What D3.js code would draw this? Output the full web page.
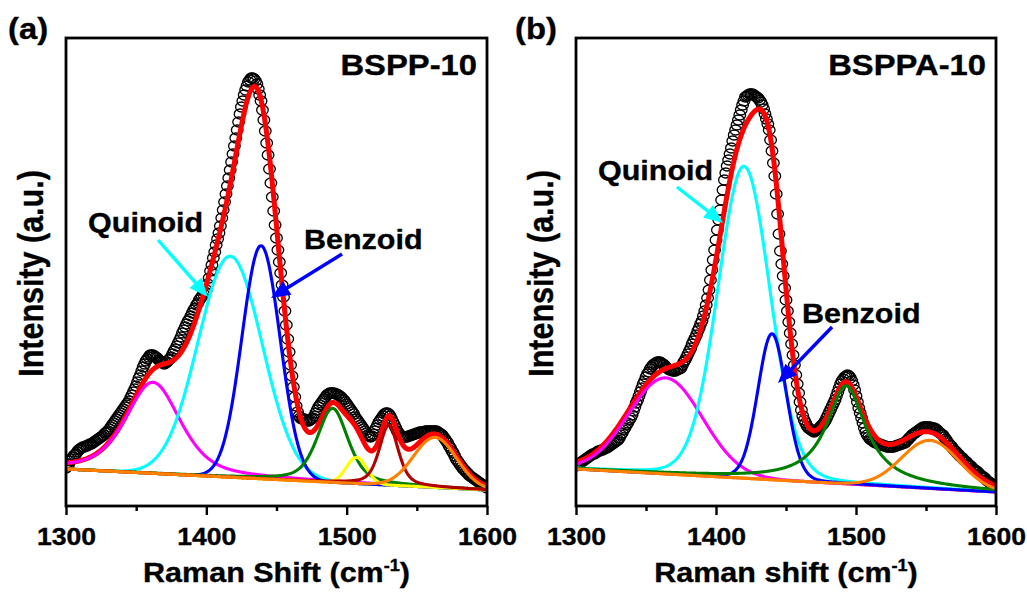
<!DOCTYPE html>
<html><head><meta charset="utf-8">
<script src="https://cdn.jsdelivr.net/npm/d3@7"></script>
<style>html,body{margin:0;padding:0;background:#fff}svg{display:block}</style>
</head><body>
<svg id="chart" width="1027" height="592"></svg>
<script>
// ---------------- DATA ----------------
const shiftMin = 1300, shiftMax = 1600;          // Raman shift axis (cm-1)
const xTicksMajor = [1300, 1400, 1500, 1600];
const xTicksMinor = [1350, 1450, 1550];
const intensityMax = 468;                        // arbitrary units

// measured spectra, one value per cm-1 from 1300 to 1600
const measuredA = [
38,40,42,45,47,49,51,52,54,56, 57,58,59,59,60,60,61,62,62,63,
64,65,66,67,68,69,70,71,73,74, 75,77,79,81,83,85,87,89,91,93,
95,97,99,101,103,105,108,111,114,117, 120,124,128,131,135,139,142,145,147,149,
151,151,151,150,149,148,146,145,144,143, 142,143,144,146,147,149,152,155,157,160,
163,166,169,173,176,179,182,185,187,190, 193,196,198,201,203,206,208,210,212,214,
216,222,228,235,241,248,254,261,267,273, 280,288,296,304,312,320,328,336,344,352,
360,368,376,384,392,399,405,411,416,420, 424,426,428,428,427,425,422,417,411,405,
396,386,375,363,351,337,323,309,295,281, 268,256,244,233,221,209,195,181,167,154,
141,130,119,109,100,94,90,88,87,87, 87,86,85,85,86,87,88,90,93,96,
99,101,103,105,107,109,111,112,113,113, 113,113,112,112,111,110,109,107,106,104,
102,100,98,96,94,92,89,87,85,83, 81,79,77,75,73,71,70,69,70,72,
75,78,81,84,86,88,90,92,93,93, 92,90,87,84,81,78,75,73,71,70,
69,69,69,69,70,70,71,71,72,72, 73,73,74,74,74,74,75,75,75,75,
75,75,75,75,75,74,73,72,71,69, 67,65,63,60,58,55,53,50,47,45,
43,41,39,37,36,34,33,31,30,29, 28,27,26,25,24,23,22,21,20,19,18
];
const measuredB = [
40,41,42,43,44,45,46,47,48,49, 50,51,52,52,53,54,55,55,56,56,
57,58,58,59,60,61,62,63,64,65, 66,68,71,73,76,78,81,83,86,88,
91,95,99,103,106,110,114,118,122,125, 129,132,134,137,139,141,142,143,144,144,
144,143,142,141,139,138,137,136,136,135, 135,135,136,137,137,138,141,144,146,149,
152,155,158,162,165,168,171,175,178,182, 185,190,195,201,208,216,226,236,246,256,
266,276,286,296,306,316,326,333,340,346, 352,358,365,371,376,381,386,391,396,401,
405,409,410,411,412,412,412,411,410,409, 408,406,404,401,397,392,387,382,376,366,
355,343,330,312,292,272,255,242,230,218, 206,195,184,173,162,151,141,131,122,113,
104,96,90,86,83,80,78,77,76,75, 74,75,76,77,78,80,81,83,85,88,
91,94,97,100,103,106,110,114,118,122, 125,127,129,130,131,130,128,125,121,116,
110,104,98,93,88,83,78,74,71,69, 67,66,65,64,63,63,62,62,61,61,
60,60,59,59,59,59,59,59,60,60, 61,61,62,62,63,63,65,66,68,69,
71,72,73,74,75,76,77,78,79,79, 79,79,79,79,78,78,78,77,76,74,
73,72,71,69,67,65,63,61,60,58, 56,55,53,52,50,49,48,46,45,44,
42,41,40,38,37,36,35,34,32,31, 30,29,28,26,25,24,23,22,21,20,19
];

// linear baselines: intensity at 1300 and at 1600
const baselineA = [37, 16];
const baselineB = [37, 14];

// fitted pseudo-Voigt components
const peakNamesA   = ["p1", "quinoid", "benzoid", "p4", "p5", "p6", "p7"];
const peakCentersA = [1362, 1417, 1439, 1490, 1507, 1530, 1563];
const peakHeightsA = [91, 221, 233, 74, 26, 60, 50];
const peakFwhmA    = [46, 54, 32, 26, 17, 16, 36];
const peakLorentzA = [0.5, 0, 0, 0.5, 0, 0.5, 0];

const peakNamesB   = ["p1", "quinoid", "benzoid", "p4", "p5"];
const peakCentersB = [1364, 1420, 1440, 1493, 1553];
const peakHeightsB = [96, 312, 146, 98, 48];
const peakFwhmB    = [62, 44, 24, 34, 48];
const peakLorentzB = [0, 0.1, 0.1, 1, 0];

// text
const panelLetters = ["(a)", "(b)"];
const sampleNames  = ["BSPP-10", "BSPPA-10"];
const xTitles      = ["Raman Shift", "Raman shift"];
const yTitle       = "Intensity (a.u.)";

// annotations (data coordinates: shift, intensity)
const annotA = [
  {text:"Quinoid", at:[1315.7, 274], from:[1365.6, 266], to:[1401.2, 209], color:"#00ffff"},
  {text:"Benzoid", at:[1469.6, 257], from:[1496.7, 252], to:[1446.1, 208], color:"#0000ff"}
];
const annotB = [
  {text:"Quinoid", at:[1315.7, 326], from:[1372.1, 319], to:[1405.0, 283], color:"#00ffff"},
  {text:"Benzoid", at:[1461.4, 183], from:[1482.9, 179], to:[1444.3, 123], color:"#0000ff"}
];

// ---------------- STYLE ----------------
const colorsA = ["#ff00ff", "#00ffff", "#0000ff", "#008000", "#ffff00", "#b00000", "#ff8000"];
const colorsB = ["#ff00ff", "#00ffff", "#0000ff", "#008000", "#ff8000"];
const FONT = "'Liberation Sans', Arial, Helvetica, sans-serif";
const SX = 1.13;                 // horizontal stretch of the original raster
const TOP = 38, BOTTOM = 506;

const panels = [
  {left:66, right:487, letterX:8, measured:measuredA, baseline:baselineA,
   centers:peakCentersA, heights:peakHeightsA, fwhm:peakFwhmA, eta:peakLorentzA,
   colors:colorsA, annots:annotA, idx:0},
  {left:576, right:996, letterX:515, measured:measuredB, baseline:baselineB,
   centers:peakCentersB, heights:peakHeightsB, fwhm:peakFwhmB, eta:peakLorentzB,
   colors:colorsB, annots:annotB, idx:1}
];

const svg = d3.select("#chart");
svg.append("rect").attr("width",1027).attr("height",592).attr("fill","#fff");

function pv(x, c, h, w, eta) {
  const t = (x - c) / w;
  return h * ((1 - eta) * Math.exp(-4 * Math.LN2 * t * t) + eta / (1 + 4 * t * t));
}

function stretchedText(g, txt, x, y, size, anchor, rotate) {
  return g.append("text")
    .attr("transform", `translate(${x},${y}) scale(${SX},1)` + (rotate ? " rotate(-90)" : ""))
    .attr("font-family", FONT).attr("font-weight", "bold")
    .attr("font-size", size).attr("text-anchor", anchor).attr("fill", "#000")
    .attr("stroke", "#000").attr("stroke-width", 0.35)
    .text(txt);
}

panels.forEach(p => {
  const x = d3.scaleLinear().domain([shiftMin, shiftMax]).range([p.left, p.right]);
  const y = d3.scaleLinear().domain([0, intensityMax]).range([BOTTOM, TOP]);
  const g = svg.append("g");
  const clipId = "clip" + p.idx;
  g.append("clipPath").attr("id", clipId).append("rect")
    .attr("x", p.left).attr("y", TOP).attr("width", p.right - p.left).attr("height", BOTTOM - TOP);
  const plot = g.append("g").attr("clip-path", `url(#${clipId})`);

  const base = s => p.baseline[0] + (p.baseline[1] - p.baseline[0]) * (s - shiftMin) / (shiftMax - shiftMin);
  const grid = d3.range(shiftMin, shiftMax + 0.01, 0.5);
  const line = d3.line().x(d => x(d[0])).y(d => y(d[1]));

  // measured points
  plot.append("g").selectAll("ellipse").data(p.measured).join("ellipse")
    .attr("cx", (d, i) => x(shiftMin + i)).attr("cy", d => y(d))
    .attr("rx", 5.8).attr("ry", 5)
    .attr("fill", "none").attr("stroke", "#000").attr("stroke-width", 1.3);

  // cumulative fit
  const fit = grid.map(s => [s, base(s) + p.centers.reduce((a, c, k) => a + pv(s, c, p.heights[k], p.fwhm[k], p.eta[k]), 0)]);
  plot.append("path").attr("d", line(fit)).attr("fill", "none")
    .attr("stroke", "#ff0000").attr("stroke-width", 5).attr("stroke-linejoin", "round");

  // baseline
  plot.append("path").attr("d", line(grid.map(s => [s, base(s)]))).attr("fill", "none")
    .attr("stroke", "#ff8000").attr("stroke-width", 3.2);

  // components
  p.centers.forEach((c, k) => {
    const comp = grid.map(s => [s, base(s) + pv(s, c, p.heights[k], p.fwhm[k], p.eta[k])]);
    plot.append("path").attr("d", line(comp)).attr("fill", "none")
      .attr("stroke", p.colors[k]).attr("stroke-width", 3.1);
  });

  // frame
  g.append("rect").attr("x", p.left).attr("y", TOP).attr("width", p.right - p.left).attr("height", BOTTOM - TOP)
    .attr("fill", "none").attr("stroke", "#000").attr("stroke-width", 2.8);

  // x axis ticks
  const axMaj = d3.axisBottom(x).tickValues(xTicksMajor).tickSize(9).tickFormat(d3.format("d"));
  const axMin = d3.axisBottom(x).tickValues(xTicksMinor).tickSize(5).tickFormat("");
  const ga = g.append("g").attr("transform", `translate(0,${BOTTOM})`).call(axMaj);
  const gm = g.append("g").attr("transform", `translate(0,${BOTTOM})`).call(axMin);
  [ga, gm].forEach(a => { a.select(".domain").remove(); a.selectAll("line").attr("stroke", "#000").attr("stroke-width", 2.4); });
  ga.selectAll("text").attr("y", 39).attr("dy", null)
    .attr("transform", `scale(${SX},1)`)
    .attr("font-family", FONT).attr("font-weight", "bold").attr("font-size", 23.5)
    .attr("fill", "#000").attr("stroke", "#000").attr("stroke-width", 0.35);

  // axis titles
  const xt = stretchedText(g, null, (p.left + p.right) / 2, 582, 27, "middle", false);
  xt.append("tspan").text(xTitles[p.idx] + " (cm");
  xt.append("tspan").attr("font-size", 16).attr("dy", -11).text("-1");
  xt.append("tspan").attr("dy", 11).text(")");
  stretchedText(g, yTitle, p.left - 23, 273.5, 30.5, "middle", true);

  // panel letter and sample name
  stretchedText(g, panelLetters[p.idx], p.letterX, 39, 29, "start", false);
  stretchedText(g, sampleNames[p.idx], p.right - 10, 75, 29, "end", false);

  // annotations
  p.annots.forEach(a => {
    stretchedText(g, a.text, x(a.at[0]), y(a.at[1]), 27, "start", false);
    const x0 = x(a.from[0]), y0 = y(a.from[1]), x1 = x(a.to[0]), y1 = y(a.to[1]);
    const L = Math.hypot(x1 - x0, y1 - y0), ux = (x1 - x0) / L, uy = (y1 - y0) / L;
    const hl = 19, hw = 8;
    const bx = x1 - ux * hl, by = y1 - uy * hl;
    g.append("line").attr("x1", x0).attr("y1", y0).attr("x2", bx + ux * 2).attr("y2", by + uy * 2)
      .attr("stroke", a.color).attr("stroke-width", 3.4);
    g.append("path").attr("d", `M${x1},${y1}L${bx - uy * hw},${by + ux * hw}L${bx + uy * hw},${by - ux * hw}Z`)
      .attr("fill", a.color);
  });
});
</script>
</body></html>
